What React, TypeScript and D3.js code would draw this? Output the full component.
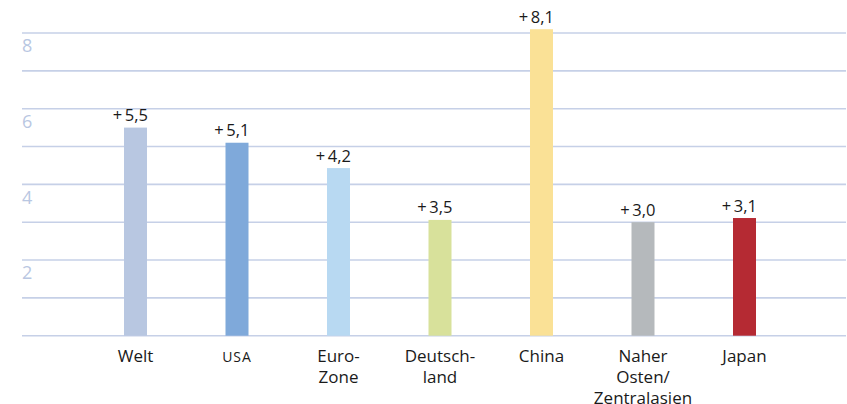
import React from "react";
import * as d3 from "d3";

const categories: string[][] = [
  ["Welt"],
  ["USA"],
  ["Euro-", "Zone"],
  ["Deutsch-", "land"],
  ["China"],
  ["Naher", "Osten/", "Zentralasien"],
  ["Japan"],
];
// bar heights as drawn in the picture
const values: number[] = [5.5, 5.1, 4.43, 3.06, 8.1, 3.0, 3.11];
const valueLabels: string[] = ["+5,5", "+5,1", "+4,2", "+3,5", "+8,1", "+3,0", "+3,1"];
const colors: string[] = ["#b8c7e1", "#7fa9da", "#b8d9f2", "#d8e19b", "#fae196", "#b5b9bc", "#b52a33"];
const gridValues: number[] = [0, 1, 2, 3, 4, 5, 6, 7, 8];
const tickLabels: number[] = [2, 4, 6, 8];

const W = 847;
const H = 404;
const FONT = "'Open Sans', 'Noto Sans', sans-serif";

export default function App() {
  const keys = categories.map((c) => c.join(" "));
  const x = d3.scaleBand<string>().domain(keys).range([84.75, 795.25]).padding(0);
  const y = d3.scaleLinear().domain([0, 8]).range([335.7, 33]);
  const barW = 23;

  return (
    <svg
      width={W}
      height={H}
      style={{ position: "absolute", left: 0, top: 0, display: "block", background: "#fff" }}
    >
      {gridValues.map((g) => (
        <line
          key={g}
          x1={22}
          x2={846}
          y1={y(g)}
          y2={y(g)}
          stroke="#c6d0e7"
          strokeWidth={1.6}
        />
      ))}
      {tickLabels.map((t) => (
        <text
          key={t}
          x={22}
          y={y(t) + 19.2}
          fill="#b9c7e2"
          fontFamily={FONT}
          fontSize={18}
        >
          {t}
        </text>
      ))}
      {keys.map((k, i) => {
        const cx = (x(k) as number) + x.bandwidth() / 2;
        return (
          <g key={k}>
            <rect
              x={cx - barW / 2}
              y={y(values[i])}
              width={barW}
              height={y(0) - y(values[i])}
              fill={colors[i]}
            />
            <text
              x={cx + barW / 2 + 1}
              y={y(values[i]) - 6.5}
              textAnchor="end"
              fill="#1a1a1a"
              fontFamily={FONT}
              fontSize={16.5}
            >
              {valueLabels[i].replace("+", "+\u2009")}
            </text>
            {categories[i].map((line, j) => (
              <text
                key={j}
                x={cx}
                y={361.5 + j * 21.3}
                textAnchor="middle"
                fill="#1a1a1a"
                fontFamily={FONT}
                fontSize={line === "USA" ? 14 : 17}
                letterSpacing={line === "USA" ? 1 : 0}
              >
                {line}
              </text>
            ))}
          </g>
        );
      })}
    </svg>
  );
}
